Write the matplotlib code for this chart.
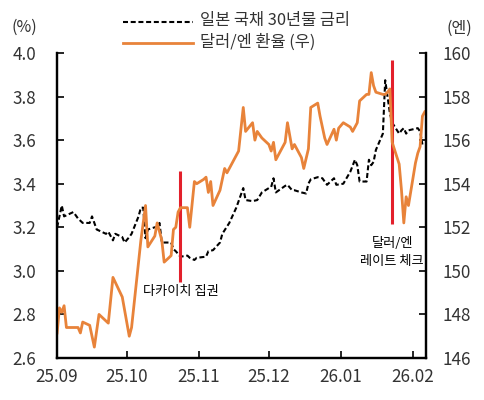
import numpy as np
import pandas as pd
import matplotlib
matplotlib.use("Agg")
import matplotlib.pyplot as plt
import matplotlib.dates as mdates

plt.rcParams['font.family'] = ['Noto Sans CJK KR', 'DejaVu Sans']

# 일본 국채 30년물 금리 (%)
jgb_dates = [
    "2025-09-01", "2025-09-02", "2025-09-03", "2025-09-04", "2025-09-08", "2025-09-10",
    "2025-09-12", "2025-09-15", "2025-09-16", "2025-09-18", "2025-09-22", "2025-09-23",
    "2025-09-25", "2025-09-26", "2025-09-29", "2025-09-30", "2025-10-02", "2025-10-03",
    "2025-10-06", "2025-10-07", "2025-10-08", "2025-10-09", "2025-10-10", "2025-10-13",
    "2025-10-14", "2025-10-15", "2025-10-16", "2025-10-17", "2025-10-20", "2025-10-21",
    "2025-10-22", "2025-10-24", "2025-10-27", "2025-10-28", "2025-10-30", "2025-10-31",
    "2025-11-04", "2025-11-05", "2025-11-07", "2025-11-10", "2025-11-11", "2025-11-14",
    "2025-11-17", "2025-11-20", "2025-11-21", "2025-11-24", "2025-11-26", "2025-11-28",
    "2025-12-01", "2025-12-02", "2025-12-03", "2025-12-04", "2025-12-08", "2025-12-09",
    "2025-12-11", "2025-12-12", "2025-12-15", "2025-12-17", "2025-12-18", "2025-12-19",
    "2025-12-22", "2025-12-24", "2025-12-26", "2025-12-29", "2025-12-30", "2026-01-02",
    "2026-01-05", "2026-01-07", "2026-01-08", "2026-01-09", "2026-01-12", "2026-01-13",
    "2026-01-14", "2026-01-15", "2026-01-16", "2026-01-19", "2026-01-20", "2026-01-21",
    "2026-01-22", "2026-01-23", "2026-01-26", "2026-01-27", "2026-01-28", "2026-01-29",
    "2026-01-30", "2026-02-03", "2026-02-04", "2026-02-05",
]
jgb_30y = [
    3.20, 3.25, 3.30, 3.25, 3.27, 3.24,
    3.22, 3.22, 3.25, 3.19, 3.17, 3.18,
    3.14, 3.17, 3.155, 3.13, 3.155, 3.17,
    3.25, 3.29, 3.29, 3.15, 3.19, 3.20,
    3.20, 3.22, 3.13, 3.13, 3.13, 3.10,
    3.09, 3.065, 3.07, 3.06, 3.05, 3.06,
    3.065, 3.09, 3.095, 3.13, 3.17, 3.22,
    3.29, 3.38, 3.325, 3.32, 3.325, 3.36,
    3.38, 3.385, 3.425, 3.36, 3.39, 3.395,
    3.37, 3.37, 3.36, 3.355, 3.40, 3.42,
    3.43, 3.425, 3.395, 3.425, 3.395, 3.40,
    3.455, 3.51, 3.485, 3.41, 3.41, 3.51,
    3.485, 3.50, 3.555, 3.63, 3.875, 3.80,
    3.725, 3.68, 3.63, 3.645, 3.655, 3.63,
    3.645, 3.655, 3.64, 3.58,
]

# 달러/엔 환율 (우)
fx_dates = [
    "2025-09-01", "2025-09-02", "2025-09-03", "2025-09-04", "2025-09-05", "2025-09-08",
    "2025-09-10", "2025-09-11", "2025-09-12", "2025-09-15", "2025-09-17", "2025-09-19",
    "2025-09-23", "2025-09-25", "2025-09-29", "2025-10-02", "2025-10-03", "2025-10-07",
    "2025-10-09", "2025-10-10", "2025-10-13", "2025-10-14", "2025-10-16", "2025-10-17",
    "2025-10-20", "2025-10-21", "2025-10-22", "2025-10-23", "2025-10-24", "2025-10-27",
    "2025-10-28", "2025-10-30", "2025-10-31", "2025-11-03", "2025-11-04", "2025-11-05",
    "2025-11-06", "2025-11-07", "2025-11-10", "2025-11-11", "2025-11-12", "2025-11-13",
    "2025-11-18", "2025-11-20", "2025-11-21", "2025-11-24", "2025-11-25", "2025-11-26",
    "2025-11-28", "2025-12-01", "2025-12-02", "2025-12-03", "2025-12-04", "2025-12-08",
    "2025-12-09", "2025-12-11", "2025-12-12", "2025-12-15", "2025-12-16", "2025-12-18",
    "2025-12-19", "2025-12-22", "2025-12-23", "2025-12-25", "2025-12-26", "2025-12-29",
    "2025-12-30", "2025-12-31", "2026-01-02", "2026-01-05", "2026-01-06", "2026-01-08",
    "2026-01-09", "2026-01-12", "2026-01-13", "2026-01-14", "2026-01-15", "2026-01-16",
    "2026-01-19", "2026-01-20", "2026-01-21", "2026-01-22", "2026-01-23", "2026-01-26",
    "2026-01-27", "2026-01-28", "2026-01-29", "2026-01-30", "2026-02-02", "2026-02-03",
    "2026-02-04", "2026-02-05", "2026-02-06",
]
usd_jpy = [
    147.15, 148.3, 148.1, 148.4, 147.4, 147.4,
    147.4, 147.15, 147.65, 147.5, 146.5, 148.0,
    147.6, 149.7, 148.8, 147.0, 147.4, 151.4,
    153.0, 151.1, 151.6, 152.2, 151.4, 150.4,
    150.7, 151.9, 152.0, 152.7, 152.9, 152.9,
    152.0, 154.1, 154.0, 154.2, 154.3, 153.6,
    154.1, 153.0, 153.7, 154.2, 154.7, 154.5,
    155.5, 157.5, 156.4, 156.8, 156.0, 156.4,
    156.1, 155.8, 155.5, 155.9, 155.1, 155.9,
    156.8, 155.6, 155.8, 155.2, 154.7, 155.6,
    157.5, 157.7, 157.1, 156.1, 155.8, 156.5,
    156.0, 156.55, 156.8, 156.6, 156.4, 156.8,
    157.8, 158.1, 158.1, 159.1, 158.5, 158.2,
    158.1, 158.1, 158.2, 158.35, 155.9, 154.9,
    153.7, 152.2, 153.4, 153.0, 154.95, 155.4,
    155.7, 157.1, 157.3,
]

# 이벤트 (날짜, 세로선 범위(좌축), 라벨)
event_dates = ["2025-10-24", "2026-01-23"]
event_ranges = [(2.95, 3.46), (3.215, 3.97)]
event_labels = ["다카이치 집권", "달러/엔\n레이트 체크"]

month_ticks = ["2025-09-01", "2025-10-01", "2025-11-01", "2025-12-01", "2026-01-01", "2026-02-01"]

text_color = "#333333"
orange = "#E8833A"
red = "#E3202B"
dash = (0, (2.4, 1.3))

fig = plt.figure(figsize=(4.84, 4.00), dpi=100)
ax = fig.add_axes([0.118, 0.105, 0.762, 0.7625])
ax2 = ax.twinx()

ax.plot(pd.to_datetime(jgb_dates), jgb_30y, color="black", lw=1.5,
        linestyle=dash, zorder=3)
ax2.plot(pd.to_datetime(fx_dates), usd_jpy, color=orange, lw=2.0, zorder=2)

for d, (lo, hi) in zip(event_dates, event_ranges):
    ax.vlines(pd.Timestamp(d), lo, hi, color=red, lw=2.2, zorder=4)

ax.text(pd.Timestamp(event_dates[0]), 2.905, event_labels[0], ha="center", va="center",
        fontsize=9.5, color="black")
ax.text(pd.Timestamp(event_dates[1]), 3.085, event_labels[1], ha="center", va="center",
        fontsize=9.5, color="black", linespacing=1.55)

ax.set_ylim(2.6, 4.0)
ax.set_yticks(np.arange(2.6, 4.01, 0.2))
ax.set_yticklabels([f"{v:.1f}" for v in np.arange(2.6, 4.01, 0.2)])
ax2.set_ylim(146, 160)
ax2.set_yticks(np.arange(146, 161, 2))

ax.set_xlim(pd.Timestamp("2025-09-01"), pd.Timestamp("2026-02-06 12:00"))
ax.set_xticks(pd.to_datetime(month_ticks))
ax.xaxis.set_major_formatter(mdates.DateFormatter("%y.%m"))

for a in (ax, ax2):
    for s in a.spines.values():
        s.set_linewidth(1.6)
    a.spines["top"].set_visible(False)
ax.tick_params(axis="both", direction="in", length=5, width=1.2, labelsize=12.3,
               colors="black", labelcolor=text_color)
ax.tick_params(axis="y", pad=15)
ax.tick_params(axis="x", pad=7)
ax2.tick_params(axis="y", direction="in", length=5, width=1.2, labelsize=12.3,
                colors="black", labelcolor=text_color, pad=12)

fig.text(0.024, 0.932, "(%)", fontsize=11.5, color=text_color, va="center")
fig.text(0.923, 0.930, "(엔)", fontsize=11.5, color=text_color, va="center")

# 범례
lx0, lx1 = 123 / 484, 193 / 484
fig.add_artist(plt.Line2D([lx0, lx1], [1 - 22 / 400] * 2, color="black", lw=1.5,
                          linestyle=dash, transform=fig.transFigure))
fig.add_artist(plt.Line2D([lx0, lx1], [1 - 43 / 400] * 2, color=orange, lw=2.0,
                          transform=fig.transFigure))
fig.text(200 / 484, 1 - 21 / 400, "일본 국채 30년물 금리", fontsize=11.8, color=text_color, va="center")
fig.text(200 / 484, 1 - 42 / 400, "달러/엔 환율 (우)", fontsize=11.8, color=text_color, va="center")

fig.savefig("out.png", dpi=100)
